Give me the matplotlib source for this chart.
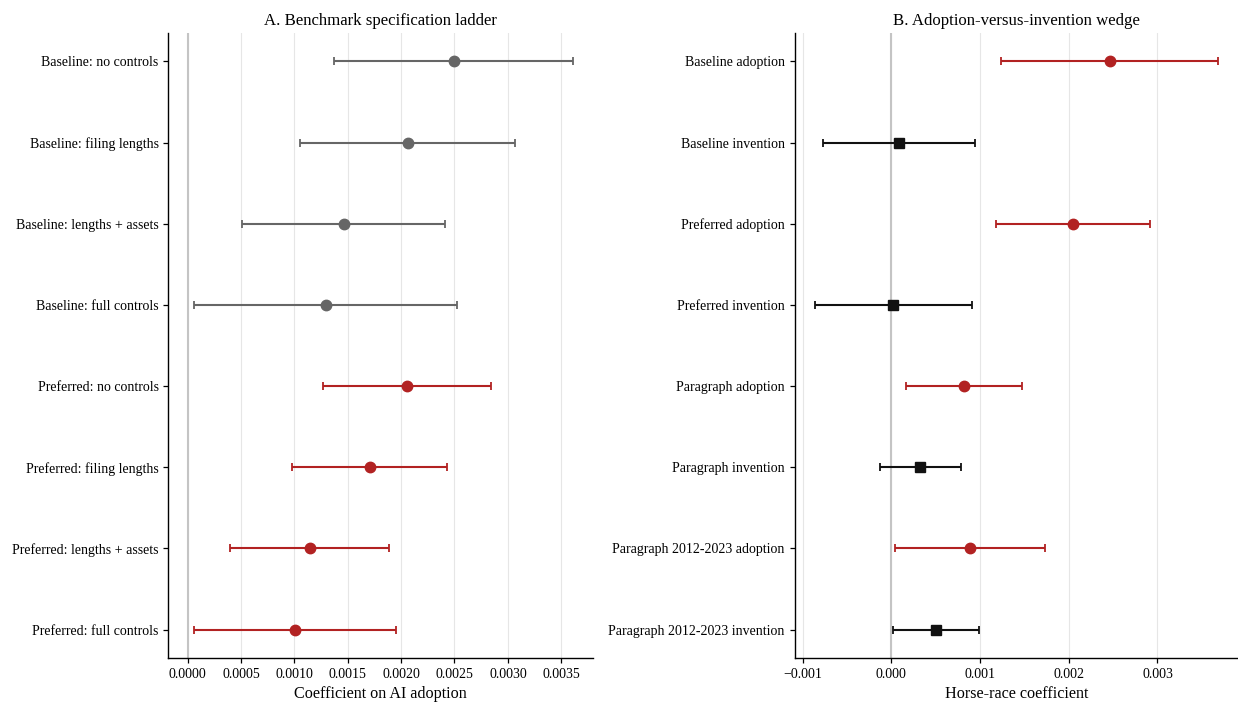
import matplotlib.pyplot as plt
import numpy as np

plt.rcParams['font.family'] = ['Liberation Serif', 'DejaVu Serif']
plt.rcParams['axes.unicode_minus'] = True

# Panel A: benchmark specification ladder
ladder_labels = ["Baseline: no controls", "Baseline: filing lengths",
                 "Baseline: lengths + assets", "Baseline: full controls",
                 "Preferred: no controls", "Preferred: filing lengths",
                 "Preferred: lengths + assets", "Preferred: full controls"]
ladder_coef = [0.002494, 0.002060, 0.001463, 0.001294,
               0.002053, 0.001706, 0.001144, 0.001006]
ladder_ci = [0.001119, 0.001003, 0.000950, 0.001234,
             0.000787, 0.000725, 0.000747, 0.000947]
ladder_group = ["baseline"] * 4 + ["preferred"] * 4

# Panel B: adoption-versus-invention wedge
wedge_labels = ["Baseline adoption", "Baseline invention",
                "Preferred adoption", "Preferred invention",
                "Paragraph adoption", "Paragraph invention",
                "Paragraph 2012-2023 adoption", "Paragraph 2012-2023 invention"]
wedge_coef = [0.002461, 0.000083, 0.002046, 0.000023,
              0.000823, 0.000325, 0.000882, 0.000507]
wedge_ci = [0.001220, 0.000856, 0.000866, 0.000888,
            0.000655, 0.000457, 0.000845, 0.000486]
wedge_kind = ["adoption", "invention"] * 4

GREY = "#666666"
RED = "#b22222"
BLACK = "#111111"

fig = plt.figure(figsize=(12.38, 7.02), dpi=100)
ax1 = fig.add_axes([0.1359, 0.0627, 0.3428, 0.8903])
ax2 = fig.add_axes([0.6418, 0.0627, 0.3582, 0.8903])


def style(ax):
    ax.axvline(0, color="#c4c4c4", lw=1.5, zorder=1)
    ax.grid(axis="x", color="#e6e6e6", lw=0.8, zorder=0)
    ax.set_axisbelow(True)
    for s in ["top", "right"]:
        ax.spines[s].set_visible(False)
    ax.spines["left"].set_linewidth(1.0)
    ax.spines["bottom"].set_linewidth(1.0)
    ax.tick_params(axis="both", labelsize=10, length=3.5, width=0.9)


style(ax1)
y1 = np.arange(len(ladder_labels))
for yi, c, e, g in zip(y1, ladder_coef, ladder_ci, ladder_group):
    col = GREY if g == "baseline" else RED
    ax1.errorbar(c, yi, xerr=e, fmt="o", color=col, ms=7.5, elinewidth=1.5,
                 capsize=3.2, capthick=1.3, zorder=3)
ax1.set_yticks(y1)
ax1.set_yticklabels(ladder_labels)
ax1.invert_yaxis()
ax1.set_xticks(np.arange(0, 0.0036, 0.0005))
ax1.set_xticklabels([f"{v:.4f}" for v in np.arange(0, 0.0036, 0.0005)])
ax1.set_xlabel("Coefficient on AI adoption", fontsize=11.6, labelpad=4)
ax1.set_title("A. Benchmark specification ladder", fontsize=12.1, pad=6)

style(ax2)
y2 = np.arange(len(wedge_labels))
for yi, c, e, k in zip(y2, wedge_coef, wedge_ci, wedge_kind):
    if k == "adoption":
        ax2.errorbar(c, yi, xerr=e, fmt="o", color=RED, ms=7.5, elinewidth=1.5,
                     capsize=3.2, capthick=1.3, zorder=3)
    else:
        ax2.errorbar(c, yi, xerr=e, fmt="s", color=BLACK, ms=7.5, elinewidth=1.5,
                     capsize=3.2, capthick=1.3, zorder=3)
ax2.set_yticks(y2)
ax2.set_yticklabels(wedge_labels)
ax2.invert_yaxis()
ax2.set_xticks([-0.001, 0.0, 0.001, 0.002, 0.003])
ax2.set_xticklabels(["\u22120.001", "0.000", "0.001", "0.002", "0.003"])
ax2.set_xlabel("Horse-race coefficient", fontsize=11.6, labelpad=4)
ax2.set_title("B. Adoption-versus-invention wedge", fontsize=12.1, pad=6)

fig.savefig("out.png", dpi=100)
